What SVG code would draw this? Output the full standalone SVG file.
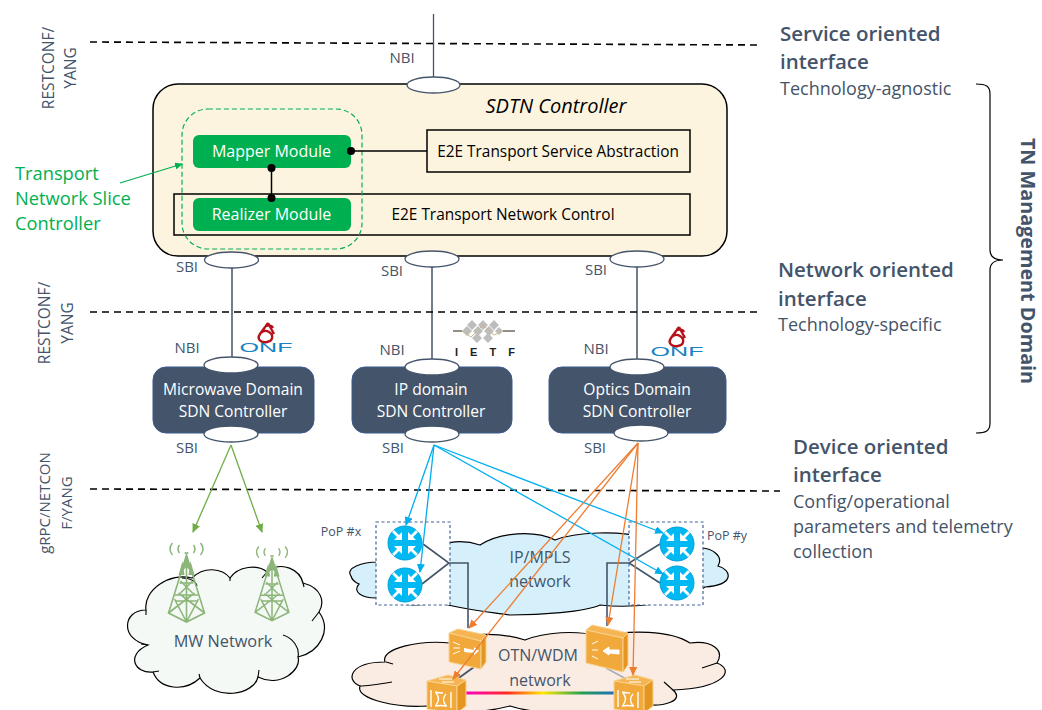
<svg xmlns="http://www.w3.org/2000/svg" width="1042" height="710" viewBox="0 0 1042 710">
<style>
text{font-family:"Open Sans","Noto Sans","Liberation Sans",sans-serif;fill:#44546a}
.l{font-size:15px;text-anchor:middle}
.s{font-size:15.5px;text-anchor:middle}
.h{font-size:20.5px;font-weight:600}
.d{font-size:18px}
.c{font-size:16px;text-anchor:middle}
.w{fill:#fff;font-size:15.6px;text-anchor:middle}
.g{fill:#fff;font-size:16px;text-anchor:middle}
.k{fill:#000;font-size:15.4px;text-anchor:middle}
.sl{font-size:18.300px;fill:#00b050}
.port{fill:#fff;stroke:#44546a;stroke-width:1.3}
.dom{fill:#44546a;stroke:#3a5a8c;stroke-width:1}
.dash{stroke:#000;stroke-width:1.6;stroke-dasharray:7 5;fill:none}
.cloud{stroke:#000;stroke-width:1.2}
.in{stroke:#000;stroke-width:1.1;fill:none}
.dot{fill:#000}
.tw{stroke:#8cb579;stroke-width:1.6;fill:none}
.box1{fill:#f2a93b;stroke:#f7d28f;stroke-width:1}
.box2{fill:#e49620;stroke:#f7d28f;stroke-width:1}
.box3{fill:#f6b552;stroke:#f7d28f;stroke-width:1}
.pop{fill:#fff;stroke:#44649c;stroke-width:1.2;stroke-dasharray:3 2.5}
</style>
<defs>
<marker id="ab" markerWidth="9" markerHeight="8" refX="8" refY="4" orient="auto" markerUnits="userSpaceOnUse"><path d="M0 0L9 4L0 8z" fill="#00aeef"/></marker>
<marker id="ao" markerWidth="9" markerHeight="8" refX="8" refY="4" orient="auto" markerUnits="userSpaceOnUse"><path d="M0 0L9 4L0 8z" fill="#ed7d31"/></marker>
<marker id="ag" markerWidth="9" markerHeight="8" refX="8" refY="4" orient="auto" markerUnits="userSpaceOnUse"><path d="M0 0L9 4L0 8z" fill="#70ad47"/></marker>
<marker id="agr" markerWidth="8" markerHeight="7" refX="7" refY="3.5" orient="auto" markerUnits="userSpaceOnUse"><path d="M0 0L8 3.5L0 7z" fill="#00b050"/></marker>
<linearGradient id="rb" gradientUnits="userSpaceOnUse" x1="465" y1="0" x2="615" y2="0">
<stop offset="0" stop-color="#ff00c8"/><stop offset=".28" stop-color="#ff2a20"/><stop offset=".52" stop-color="#ffe800"/><stop offset=".78" stop-color="#20a050"/><stop offset="1" stop-color="#1f6fc0"/>
</linearGradient>
<g id="router">
<circle r="17" fill="#00b9f2" stroke="#00a0d8" stroke-width="1"/>
<g fill="#fff">
<path d="M-3-3L-3-11L-6-8L-11-13L-13-11L-8-6L-11-3z"/>
<path d="M3 3L3 11L6 8L11 13L13 11L8 6L11 3z"/>
<path d="M3-3L11-3L8-6L13-11L11-13L6-8L3-11z" transform="rotate(180)"/>
<path d="M3-3L11-3L8-6L13-11L11-13L6-8L3-11z"/>
</g>
</g>
<g id="tower">
<path class="tw" d="M0-46L-18 12L0 21L18 12zM0-46V21M-18 12L8-8M18 12L-8-8M-13-6H13M-11 0L11 0M-7-18H7M-6-20L6-8M6-20L-6-8M-12-2L0 21M12-2L0 21"/>
<path d="M0-46L5-29L0-34L-5-29z" fill="#8cb579"/>
<path d="M-4-40L-2-26H-8zM4-40L8-26H2z" fill="#8cb579"/>
<g fill="none" stroke="#8cb579" stroke-width="1.5">
<path d="M-14-58Q-19-52-14-46M14-58Q19-52 14-46"/>
<path d="M-7-56Q-10-52-7-48M7-56Q10-52 7-48"/>
<path d="M-1-49V-47M1-49V-47"/>
</g>
</g>
<g id="onf">
<path d="M2-24L-6-13C-10-7-4-4 1-5C7-6 8-12 3-15C0-17-4-16-5-14M2-24L8-13M-1-21C3-22 6-21 7-19" fill="none" stroke="#b5121b" stroke-width="2.400"/>
<text x="0" y="5" text-anchor="middle" textLength="53" lengthAdjust="spacingAndGlyphs" style="font-size:13px;fill:#1583c4;font-family:'Liberation Sans',sans-serif">ONF</text>
</g>
<g id="xc">
<path class="box3" d="M0 6L21 0L39 5L30 11z"/>
<path class="box1" d="M0 6L30 11V38L0 34z"/>
<path class="box2" d="M30 11L39 5V31L30 38z"/>
<path d="M8 17Q12 18 16 18M8 31Q13 30 20 31M9 18Q14 24 9 30M19 19Q14 24 19 31M4 15V32M24 17V33" stroke="#fff" stroke-width="1.400" fill="none"/>
<path d="M12 4H25M15 7H27" stroke="#fff" stroke-width="1"/>
</g>
</defs>

<g id="connectors">
<path d="M433.500 14V78" stroke="#44546a" stroke-width="1.300" fill="none"/>
<path d="M232 265V362M432 265V362M637 265V362" stroke="#44546a" stroke-width="1.500" fill="none"/>
<path class="dash" d="M90 42L762 45"/>
<path class="dash" d="M90 312L762 312"/>
<path class="dash" d="M90 489L780 491"/>
</g>

<g id="mw-cloud">
<path class="cloud" fill="#f4f9f5" d="M146 610C143 590 170 572 192 578C204 566 222 568 230 578C238 566 258 564 267 572C282 560 300 570 303 583C322 588 325 602 319 612C332 630 320 652 298 657C302 670 280 688 258 677C254 695 215 702 200 678C185 692 160 690 153 672C135 674 125 655 148 645C120 640 122 610 146 610z"/>
<path class="in" d="M182 578C190 578 196 581 197 586M230 578V581M267 572L262 578M303 583L304 587M319 612L312 621M283 635C293 638 300 648 298 657M258 677L259 670M200 678L199 674M153 672L159 671M148 645L141 644M146 610L146 615"/>
<text x="223" y="647" class="c" style="font-size:16.300px">MW Network</text>
</g>
<use href="#tower" x="186.500" y="601"/>
<g transform="translate(272 601) scale(.94)"><use href="#tower"/></g>

<g id="ip-cloud">
<path class="cloud" fill="#d5f0fb" d="M378 562C362 562 345 568 351 576C352 580 354 582 359 584C352 592 362 598 376 598C395 606 420 606 440 603C465 610 490 612 510 615C540 615 585 612 600 605C625 608 680 606 705 587C735 585 732 570 718 566C724 556 712 548 700 548C685 536 660 538 645 538C620 530 575 532 555 540C535 530 500 532 480 545C465 540 445 540 430 550C415 548 395 552 378 562z"/>
<text x="540" y="563" class="c">IP/MPLS</text>
<text x="540" y="587" class="c">network</text>
</g>
<g id="otn-cloud">
<path class="cloud" fill="#fbece3" d="M385 662C380 648 420 640 450 643C465 632 500 632 525 640C545 632 575 630 600 636C630 630 670 630 690 643C712 640 725 650 717 663C735 670 725 688 673 690C685 700 665 708 640 704C620 716 540 716 510 706C480 714 440 714 427 706C400 708 355 700 360 686C345 680 350 662 385 662z"/>
<path class="in" d="M392 682C380 684 368 686 360 686M702 668L717 663M664 682L673 690M386 662L393 664"/>
<text x="538" y="661" class="c">OTN/WDM</text>
<text x="540" y="686" class="c">network</text>
</g>

<g id="pop-x">
<rect class="pop" x="376" y="522" width="74" height="83"/>
<path d="M423 544L449 563L422 584M449 563H468V628" fill="none" stroke="#44546a" stroke-width="1.600"/>
<use href="#router" x="405" y="543"/>
<use href="#router" x="405" y="585"/>
</g>
<g id="pop-y">
<rect class="pop" x="629" y="522" width="74" height="83"/>
<path d="M660 544L629 563L660 583M629 563H607V626" fill="none" stroke="#44546a" stroke-width="1.600"/>
<use href="#router" x="677" y="544"/>
<use href="#router" x="677" y="583"/>
</g>

<g id="optical">
<path d="M474 667L456 680" stroke="#44546a" stroke-width="1.800" fill="none"/>
<path d="M606 668L630 681" stroke="#a8adb5" stroke-width="1.500" fill="none"/>
<path d="M465 693H615" stroke="url(#rb)" stroke-width="3"/>
<g>
<path class="box3" d="M449 633L458 629L486 635L481 641z"/>
<path class="box1" d="M449 633L481 641V669L449 662z"/>
<path class="box2" d="M481 641L486 635V662L481 669z"/>
<path d="M464 648L474 650V647L479 651L474 655V653L464 652z" fill="#fff"/>
<path d="M453 642L460 645M453 648L460 648M453 654L460 651" stroke="#fff" fill="none"/>
</g>
<g>
<path class="box3" d="M586 630L592 625L628 633L623 638z"/>
<path class="box1" d="M586 630L623 638V672L586 663z"/>
<path class="box2" d="M623 638L628 633V665L623 672z"/>
<path d="M619 650H609V647L603 651L609 655V653L619 654z" fill="#fff" stroke="#fff"/>
<path d="M592 644L598 641M592 650L598 650M592 656L598 659" stroke="#fff" fill="none"/>
</g>
<use href="#xc" x="427" y="675"/>
<use href="#xc" x="614" y="675"/>
</g>

<g id="arrows" fill="none" stroke-width="1.300">
<g stroke="#00aeef">
<path d="M434 445L406 525" marker-end="url(#ab)"/>
<path d="M434 445L420 572" marker-end="url(#ab)"/>
<path d="M434 445L663 533" marker-end="url(#ab)"/>
<path d="M434 445L663 574" marker-end="url(#ab)"/>
</g>
<g stroke="#ed7d31">
<path d="M638 443L469 628" marker-end="url(#ao)"/>
<path d="M638 443L453 679" marker-end="url(#ao)"/>
<path d="M638 443L608 625" marker-end="url(#ao)"/>
<path d="M638 443L633 675" marker-end="url(#ao)"/>
</g>
<g stroke="#70ad47">
<path d="M231 445L193 532" marker-end="url(#ag)"/>
<path d="M231 445L262 532" marker-end="url(#ag)"/>
</g>
</g>

<g id="sdtn-controller">
<rect x="153" y="84" width="574" height="172" rx="25" fill="#fdf4df" stroke="#000" stroke-width="1.500"/>
<text x="556" y="113" text-anchor="middle" style="font-size:20px;font-style:italic;fill:#000">SDTN Controller</text>
<rect x="427" y="130" width="263" height="42" fill="none" stroke="#000" stroke-width="1.500"/>
<text x="558" y="157" class="k">E2E Transport Service Abstraction</text>
<rect x="174" y="194" width="516" height="41" fill="none" stroke="#000" stroke-width="1.500"/>
<text x="503" y="220" class="k">E2E Transport Network Control</text>
</g>
<g id="slice-controller">
<rect x="182" y="109" width="180" height="140" rx="26" fill="none" stroke="#00b050" stroke-width="1.200" stroke-dasharray="5 3"/>
<text x="15" y="180" class="sl">Transport</text>
<text x="15" y="205" class="sl">Network Slice</text>
<text x="15" y="230" class="sl">Controller</text>
<path d="M120 183L182 164" stroke="#00b050" stroke-width="1.300" fill="none" marker-end="url(#agr)"/>
</g>
<g id="mapper">
<rect x="193" y="135" width="158" height="33" rx="6" fill="#00b050"/>
<text x="271.500" y="157" class="g">Mapper Module</text>
</g>
<g id="realizer">
<rect x="193" y="198" width="158" height="33" rx="6" fill="#00b050"/>
<text x="271.500" y="220" class="g">Realizer Module</text>
</g>
<g id="module-links">
<path d="M351 151H427M271.500 168V198" stroke="#000" stroke-width="1.500" fill="none"/>
<circle class="dot" cx="351" cy="151" r="4"/><circle class="dot" cx="271.500" cy="168" r="4"/><circle class="dot" cx="271.500" cy="198" r="4"/>
</g>

<g id="ports-top">
<ellipse class="port" cx="433.500" cy="85" rx="26.500" ry="8"/>
<ellipse class="port" cx="231.500" cy="260" rx="27" ry="8"/>
<ellipse class="port" cx="432" cy="259" rx="27" ry="8"/>
<ellipse class="port" cx="637" cy="259" rx="27" ry="8"/>
</g>

<g id="microwave">
<rect class="dom" x="153" y="367" width="161" height="66" rx="13"/>
<ellipse class="port" cx="231" cy="365" rx="27" ry="8"/>
<ellipse class="port" cx="231" cy="434" rx="27" ry="8"/>
<text x="233" y="395" class="w">Microwave Domain</text>
<text x="233" y="417" class="w">SDN Controller</text>
</g>
<g id="ip-domain">
<rect class="dom" x="352" y="367" width="160" height="66" rx="13"/>
<ellipse class="port" cx="432" cy="367" rx="27" ry="8"/>
<ellipse class="port" cx="432" cy="434" rx="27" ry="8"/>
<text x="431" y="395" class="w">IP domain</text>
<text x="431" y="417" class="w">SDN Controller</text>
</g>
<g id="optics">
<rect class="dom" x="549" y="367" width="177" height="66" rx="13"/>
<ellipse class="port" cx="637" cy="367" rx="27" ry="8"/>
<ellipse class="port" cx="641" cy="433" rx="27" ry="8"/>
<text x="637" y="395" class="w">Optics Domain</text>
<text x="637" y="417" class="w">SDN Controller</text>
</g>

<use href="#onf" x="266" y="347"/>
<use href="#onf" x="677" y="351"/>
<g id="ietf">
<path d="M453 331H462M503 331H515" stroke="#6f6a5e" stroke-width="1.600"/>
<g fill="#bdbdbd"><path d="M462 331l5-5 5 5-5 5zM473 331l5-5 5 5-5 5zM484 331l5-5 5 5-5 5zM495 331l4-4 4 4-4 4zM467 325l5-5 5 5-5 5zM478 325l5-5 5 5-5 5zM489 325l5-5 5 5-5 5zM472 338l5-5 5 5-5 5zM483 338l5-5 5 5-5 5z"/></g>
<path d="M462 331L471 337L483 325L494 335L503 331" stroke="#c9b98a" stroke-width="1" fill="none"/>
<text x="455" y="356" textLength="60" lengthAdjust="spacing" style="font-size:11px;font-weight:700;fill:#222;font-family:'Liberation Sans',sans-serif">IETF</text>
</g>

<g id="labels">
<text x="402" y="63" class="l">NBI</text>
<text x="187" y="272" class="l">SBI</text>
<text x="392" y="276" class="l">SBI</text>
<text x="596" y="275" class="l">SBI</text>
<text x="187" y="353" class="l">NBI</text>
<text x="392" y="355" class="l">NBI</text>
<text x="596" y="354" class="l">NBI</text>
<text x="187" y="453" class="l">SBI</text>
<text x="393" y="453" class="l">SBI</text>
<text x="595" y="453" class="l">SBI</text>
<text x="341" y="536" text-anchor="middle" style="font-size:12.500px">PoP #x</text>
<text x="727" y="540" text-anchor="middle" style="font-size:12.500px">PoP #y</text>
<text transform="translate(54 68) rotate(-90)" class="s">RESTCONF/</text>
<text transform="translate(76 68) rotate(-90)" class="s">YANG</text>
<text transform="translate(50 323) rotate(-90)" class="s">RESTCONF/</text>
<text transform="translate(73 323) rotate(-90)" class="s">YANG</text>
<text transform="translate(50 503) rotate(-90)" class="s" style="font-size:15px">gRPC/NETCON</text>
<text transform="translate(72 503) rotate(-90)" class="s" style="font-size:15px">F/YANG</text>
<text x="780" y="41" class="h">Service oriented</text>
<text x="780" y="69" class="h">interface</text>
<text x="780" y="95" class="d">Technology-agnostic</text>
<text x="778" y="277" class="h">Network oriented</text>
<text x="778" y="306" class="h">interface</text>
<text x="778" y="331" class="d">Technology-specific</text>
<text x="793" y="454" class="h">Device oriented</text>
<text x="793" y="482" class="h">interface</text>
<text x="793" y="508" class="d">Config/operational</text>
<text x="793" y="533" class="d">parameters and telemetry</text>
<text x="793" y="558" class="d">collection</text>
<text transform="translate(1021 261) rotate(90)" text-anchor="middle" style="font-size:19.800px;font-weight:700">TN Management Domain</text>
</g>
<path id="bracket" d="M976 84C986 84 990 86 990 94V250C990 257 995 260 1003 260C995 260 990 263 990 270V423C990 431 986 433 976 433" fill="none" stroke="#000" stroke-width="1.200"/>
</svg>
